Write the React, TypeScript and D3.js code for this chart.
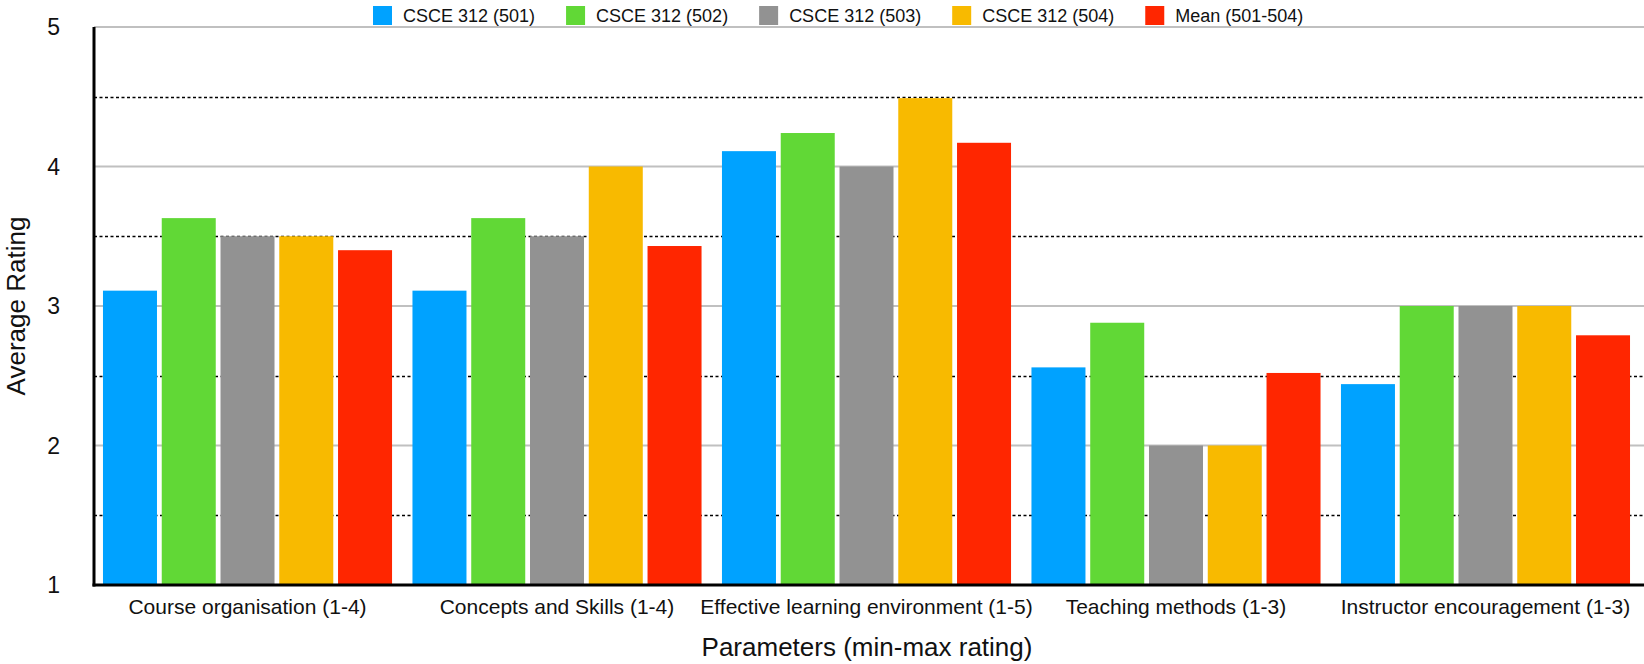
import * as d3 from "d3"

const categories = [
  "Course organisation (1-4)",
  "Concepts and Skills (1-4)",
  "Effective learning environment (1-5)",
  "Teaching methods (1-3)",
  "Instructor encouragement (1-3)",
]
const seriesNames = ["CSCE 312 (501)", "CSCE 312 (502)", "CSCE 312 (503)", "CSCE 312 (504)", "Mean (501-504)"]
const seriesColors = ["#00a2ff", "#61d836", "#929292", "#f8ba00", "#ff2600"]

const s501 = [3.11, 3.11, 4.11, 2.56, 2.44]
const s502 = [3.63, 3.63, 4.24, 2.88, 3.0]
const s503 = [3.5, 3.5, 4.0, 2.0, 3.0]
const s504 = [3.5, 4.0, 4.49, 2.0, 3.0]
const sMean = [3.4, 3.43, 4.17, 2.52, 2.79]
const seriesValues = [s501, s502, s503, s504, sMean]

const yTicks = [1, 2, 3, 4, 5]
const yMinor = [1.5, 2.5, 3.5, 4.5]

const W = 1644
const H = 664
const FONT = "'Liberation Sans', Arial, Helvetica, sans-serif"

function textWidth(t: string, size: number) {
  const ctx = document.createElement("canvas").getContext("2d")
  if (!ctx) return t.length * size * 0.55
  ctx.font = `${size}px ${FONT}`
  return ctx.measureText(t).width
}

export default function App() {
  const left = 94
  const top = 27
  const bottom = 585

  const y = d3.scaleLinear().domain([1, 5]).range([bottom, top])
  const x0 = d3.scaleBand<string>().domain(categories).range([left, 1639]).paddingInner(0.066).paddingOuter(0.029)
  const x1 = d3
    .scaleBand<number>()
    .domain(d3.range(seriesNames.length))
    .range([0, x0.bandwidth()])
    .paddingInner(0.081)

  // legend layout: square, label, gap
  const legendSize = 18
  let lx = 373
  const legendItems = seriesNames.map((name, i) => {
    const item = { name, color: seriesColors[i], x: lx }
    lx += 19 + 11 + textWidth(name, legendSize) + 31
    return item
  })

  return (
    <svg
      width={W}
      height={H}
      style={{ position: "absolute", left: 0, top: 0, background: "#fff" }}
      fontFamily={FONT}
    >
      {/* grid */}
      {yTicks
        .filter((t) => t > 1)
        .map((t) => (
          <line key={`g${t}`} x1={left} x2={W} y1={y(t)} y2={y(t)} stroke="#c0c0c0" strokeWidth={2} />
        ))}
      {yMinor.map((t) => (
        <line
          key={`m${t}`}
          x1={left}
          x2={W}
          y1={Math.round(y(t)) + 0.5}
          y2={Math.round(y(t)) + 0.5}
          stroke="#000"
          strokeWidth={1.3}
          strokeDasharray="3,2.5"
        />
      ))}

      {/* bars */}
      {categories.map((c, ci) => (
        <g key={c} transform={`translate(${x0(c)},0)`}>
          {seriesValues.map((vals, si) => (
            <rect
              key={si}
              x={x1(si)}
              y={y(vals[ci])}
              width={x1.bandwidth()}
              height={y(1) - y(vals[ci])}
              fill={seriesColors[si]}
            />
          ))}
        </g>
      ))}

      {/* axes */}
      <line x1={left} x2={left} y1={top} y2={bottom + 1.5} stroke="#000" strokeWidth={3} />
      <line x1={left - 1.5} x2={W} y1={bottom} y2={bottom} stroke="#000" strokeWidth={3} />

      {yTicks.map((t) => (
        <text key={`t${t}`} x={60} y={y(t)} dy="0.36em" textAnchor="end" fontSize={23} fill="#111">
          {t}
        </text>
      ))}

      {categories.map((c) => (
        <text key={`c${c}`} x={(x0(c) as number) + x0.bandwidth() / 2} y={614} textAnchor="middle" fontSize={21} fill="#111">
          {c}
        </text>
      ))}

      <text x={(left + W) / 2 - 2} y={656} textAnchor="middle" fontSize={26} fill="#111">
        Parameters (min-max rating)
      </text>
      <text transform={`translate(25,${(top + bottom) / 2}) rotate(-90)`} textAnchor="middle" fontSize={26} fill="#111">
        Average Rating
      </text>

      {/* legend */}
      {legendItems.map((it) => (
        <g key={it.name}>
          <rect x={it.x} y={6} width={19} height={19} fill={it.color} />
          <text x={it.x + 30} y={22} fontSize={legendSize} fill="#111">
            {it.name}
          </text>
        </g>
      ))}
    </svg>
  )
}
